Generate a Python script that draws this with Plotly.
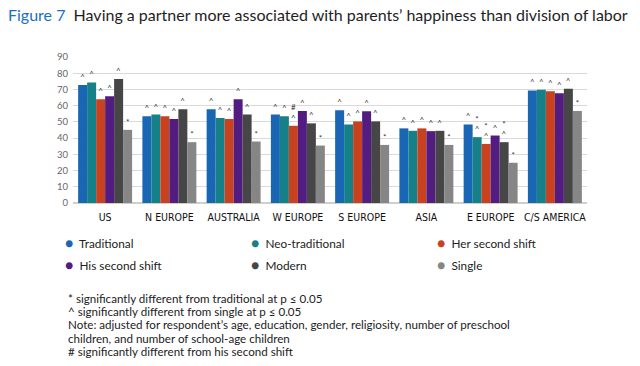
import plotly.graph_objects as go

categories = ["US", "N EUROPE", "AUSTRALIA", "W EUROPE", "S EUROPE", "ASIA", "E EUROPE", "C/S AMERICA"]
series_names = ["Traditional", "Neo-traditional", "Her second shift", "His second shift", "Modern", "Single"]
colors = ["#1866b4", "#168089", "#c8421f", "#521c80", "#464646", "#868686"]

traditional = [72.7, 53.4, 57.8, 54.5, 57.1, 46.0, 48.4, 69.4]
neo_traditional = [74.3, 54.5, 52.4, 53.4, 48.4, 44.5, 40.6, 69.8]
her_second_shift = [64.0, 53.4, 51.8, 47.6, 50.3, 46.0, 36.4, 68.9]
his_second_shift = [65.8, 51.8, 64.0, 56.7, 56.5, 44.3, 41.6, 67.7]
modern = [76.4, 57.8, 54.5, 49.1, 50.3, 44.5, 37.5, 70.4]
single = [45.1, 37.5, 37.9, 35.4, 35.8, 35.8, 24.8, 56.7]

# significance marks above each bar
marks_traditional = ["^", "^", "^", "^", "^", "^", "^", "^"]
marks_neo = ["^", "^", "^", "^", "^", "^", "*<br>^", "^"]
marks_her = ["^", "^", "^", "#<br>^", "^", "^", "*<br>^", "^"]
marks_his = ["^", "^", "^", "^", "^", "^", "^", "^"]
marks_modern = ["^", "^", "^", "^", "^", "^", "*<br>^", "^"]
marks_single = ["*", "*", "*", "*", "*", "*", "*", "*"]

y_ticks = [0, 10, 20, 30, 40, 50, 60, 70, 80, 90]

notes = [
    "* significantly different from traditional at p ≤ 0.05",
    "^ significantly different from single at p ≤ 0.05",
    "Note: adjusted for respondent’s age, education, gender, religiosity, number of preschool",
    "children, and number of school-age children",
    "# significantly different from his second shift",
]

values = [traditional, neo_traditional, her_second_shift, his_second_shift, modern, single]
marks = [marks_traditional, marks_neo, marks_her, marks_his, marks_modern, marks_single]

fig = go.Figure()
for name, vals, col, mk in zip(series_names, values, colors, marks):
    fig.add_trace(go.Bar(
        x=categories, y=vals, name=name,
        marker=dict(color=col, line=dict(width=0)),
        text=mk, textposition="outside", constraintext="none",
        textfont=dict(size=8, color="#333333", family="Lato"),
        cliponaxis=False, showlegend=False,
    ))

W, H = 640, 366
ml, mr, mt, mb = 73, 53, 57, 163

fig.update_layout(
    width=W, height=H,
    margin=dict(l=ml, r=mr, t=mt, b=mb, pad=0),
    paper_bgcolor="white", plot_bgcolor="white",
    barmode="group", bargap=0.16, bargroupgap=0,
    font=dict(family="Lato"),
)

fig.update_yaxes(
    range=[0, 90], tickvals=y_ticks, showgrid=True, gridcolor="#dadada", gridwidth=1.2,
    zeroline=True, zerolinecolor="#cfcfcf", zerolinewidth=1.5, showline=False,
    tickfont=dict(family="Lato", size=9.5, color="#666666"), ticks="", ticklabelstandoff=4,
)
fig.update_xaxes(
    tickfont=dict(family="Liberation Sans Narrow, DejaVu Sans Condensed, Arial Narrow", size=10.5, color="#111111"),
    ticks="", showline=False, ticklabelstandoff=6,
)

def px_x(x):
    return (x - ml) / (W - ml - mr)

def px_y(y):
    return (H - mb - y) / (H - mt - mb)

# title
fig.add_annotation(
    x=px_x(6), y=px_y(15), xref="paper", yref="paper",
    xanchor="left", yanchor="middle", showarrow=False,
    text="<span style='color:#1a6fc0'>Figure 7</span>  Having a partner more associated with parents’ happiness than division of labor",
    font=dict(family="Lato", size=16, color="#1e1e1e"),
)

legend_pos = [(68, 242), (254, 242), (440, 242), (68, 264), (254, 264), (440, 264)]
for name, col, (lx, ly) in zip(series_names, colors, legend_pos):
    fig.add_annotation(
        x=px_x(lx - 5), y=px_y(ly), xref="paper", yref="paper",
        xanchor="left", yanchor="middle", showarrow=False,
        text=f"<span style='color:{col};font-size:14px'>●</span>  {name}",
        font=dict(family="Lato", size=11.8, color="#222222"),
    )

for i, line in enumerate(notes):
    fig.add_annotation(
        x=px_x(66), y=px_y(298 + i * 13.4), xref="paper", yref="paper",
        xanchor="left", yanchor="middle", showarrow=False,
        text=line, font=dict(family="Lato", size=11.6, color="#222222"),
    )

fig.write_html(
    "out.html",
    config={"displayModeBar": False},
    post_script="document.body.style.margin='0';document.body.style.padding='0';",
)
